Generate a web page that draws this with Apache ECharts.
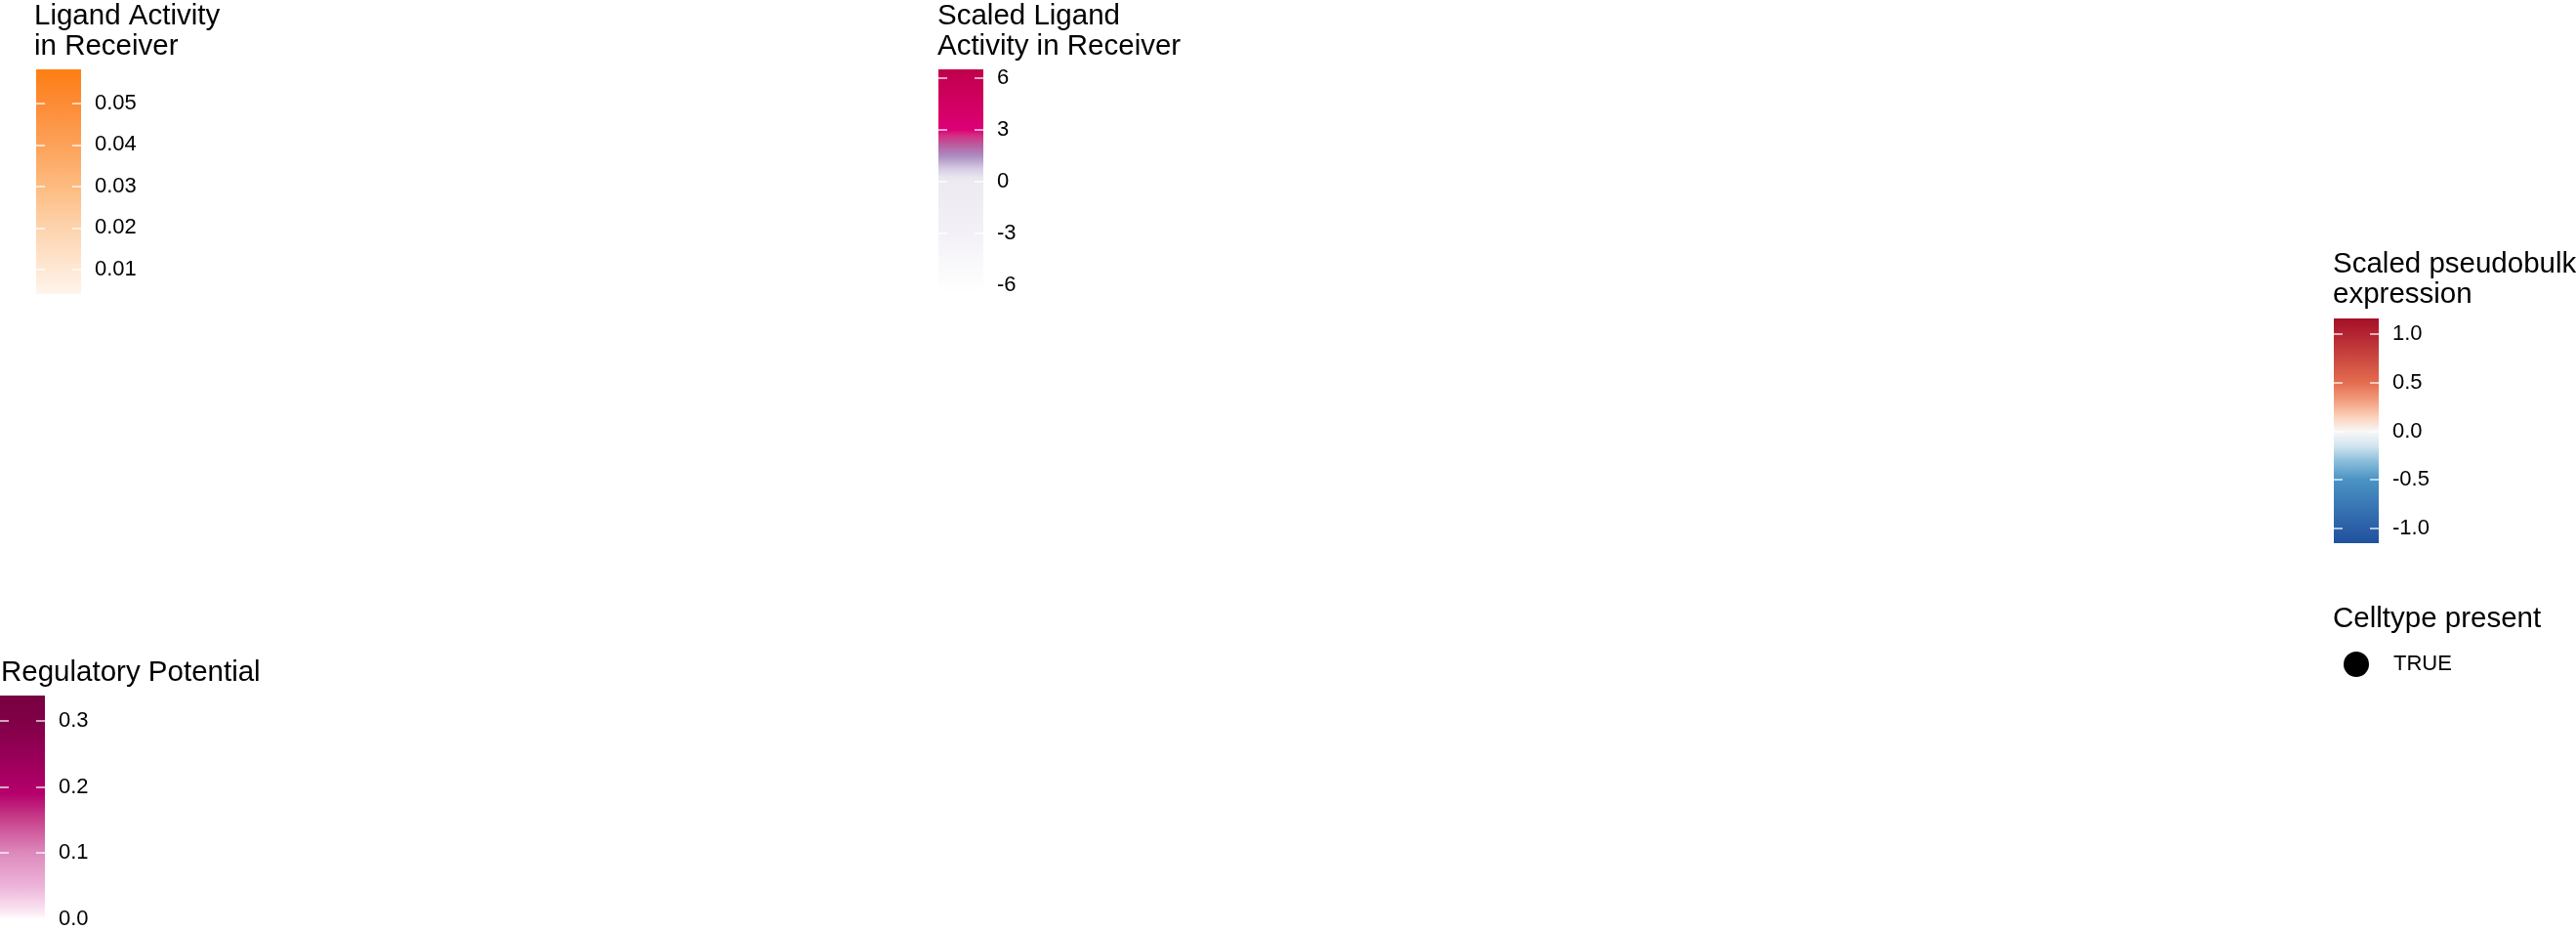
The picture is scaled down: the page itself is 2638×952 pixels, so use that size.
<!DOCTYPE html>
<html>
<head>
<meta charset="utf-8">
<script src="https://cdn.jsdelivr.net/npm/echarts@6/dist/echarts.min.js"></script>
<style>
  html, body { margin: 0; padding: 0; background: #ffffff; }
  #chart { width: 2638px; height: 952px; }
</style>
</head>
<body>
<div id="chart"></div>
<script>
// ---------- data ----------
const ligandActivityTitle = 'Ligand Activity\nin Receiver';
const ligandActivityRange = [0.0041, 0.0582];
const ligandActivityTicks = [0.01, 0.02, 0.03, 0.04, 0.05];
const ligandActivityLabels = ['0.01', '0.02', '0.03', '0.04', '0.05'];
const ligandActivityStops = [0.0041, 0.01, 0.02, 0.03, 0.04, 0.05, 0.0582];
const ligandActivityColors = ['#FFF5EC', '#FEE8D5', '#FDD3AD', '#FDBB80', '#FCA25A', '#FD8B36', '#FE7F12'];

const scaledLigandTitle = 'Scaled Ligand\nActivity in Receiver';
const scaledLigandRange = [-6.51, 6.51];
const scaledLigandTicks = [-6, -3, 0, 3, 6];
const scaledLigandLabels = ['-6', '-3', '0', '3', '6'];
const scaledLigandStops = [-6.51, -3, 0, 0.25, 0.75, 1.5, 2.1, 2.7, 3, 4.5, 6.51];
const scaledLigandColors = ['#FFFFFF', '#F3F1F7', '#EDEAF2', '#EAE6F0', '#D5CCE3', '#AC8CC0', '#B85FA0', '#D42C82', '#DC0077', '#D20062', '#C0004B'];

const pseudobulkTitle = 'Scaled pseudobulk\nexpression';
const pseudobulkRange = [-1.151, 1.161];
const pseudobulkTicks = [-1.0, -0.5, 0.0, 0.5, 1.0];
const pseudobulkLabels = ['-1.0', '-0.5', '0.0', '0.5', '1.0'];
const pseudobulkStops = [-1.151, -1.0, -0.5, -0.3, -0.15, 0.0, 0.15, 0.3, 0.5, 1.0, 1.161];
const pseudobulkColors = ['#1F519E', '#2A5FA7', '#4A92C4', '#8DC0DC', '#D2E5F0', '#F8F7F6', '#FBD0BA', '#F3A283', '#E36D4F', '#B32432', '#A50F27'];

const regulatoryTitle = 'Regulatory Potential';
const regulatoryRange = [0.0, 0.338];
const regulatoryTicks = [0.0, 0.1, 0.2, 0.3];
const regulatoryLabels = ['0.0', '0.1', '0.2', '0.3'];
const regulatoryStops = [0.0, 0.01, 0.05, 0.1, 0.15, 0.19, 0.25, 0.3, 0.338];
const regulatoryColors = ['#FFFFFF', '#FBEAF4', '#EDB3D9', '#DD8ABD', '#C8428C', '#B5006B', '#960057', '#800046', '#780041'];

const celltypeTitle = 'Celltype present';
const celltypeLevels = ['TRUE'];

// ---------- layout / style ----------
const FONT = '"Liberation Sans", Arial, Helvetica, sans-serif';
const TITLE_SIZE = 29.5, TITLE_LH = 31, TEXT_SIZE = 22;

const panels = [
  { title: ligandActivityTitle, range: ligandActivityRange, ticks: ligandActivityTicks, labels: ligandActivityLabels,
    stops: ligandActivityStops, colors: ligandActivityColors, titleLeft: 35, titleTop: 1, barLeft: 37, barTop: 71 },
  { title: scaledLigandTitle, range: scaledLigandRange, ticks: scaledLigandTicks, labels: scaledLigandLabels,
    stops: scaledLigandStops, colors: scaledLigandColors, titleLeft: 960, titleTop: 1, barLeft: 961, barTop: 71 },
  { title: pseudobulkTitle, range: pseudobulkRange, ticks: pseudobulkTicks, labels: pseudobulkLabels,
    stops: pseudobulkStops, colors: pseudobulkColors, titleLeft: 2389, titleTop: 255, barLeft: 2390, barTop: 326 },
  { title: regulatoryTitle, range: regulatoryRange, ticks: regulatoryTicks, labels: regulatoryLabels,
    stops: regulatoryStops, colors: regulatoryColors, titleLeft: 1, titleTop: 673, barLeft: 0, barTop: 712 }
];
const BAR_W = 46, BAR_H = 230, TICK_LEN = 9;

function gradient(range, stops, colors) {
  const lo = range[0], hi = range[1];
  const cs = stops.map((v, i) => ({ offset: Math.min(1, Math.max(0, (hi - v) / (hi - lo))), color: colors[i] }));
  cs.sort((a, b) => a.offset - b.offset);
  return { type: 'linear', x: 0, y: 0, x2: 0, y2: 1, colorStops: cs };
}

function labelFor(p) {
  return function (v) {
    let best = 0, d = Infinity;
    p.ticks.forEach((t, i) => { const dd = Math.abs(t - v); if (dd < d) { d = dd; best = i; } });
    return p.labels[best];
  };
}

const titles = [], grids = [], xAxes = [], yAxes = [];
panels.forEach((p, i) => {
  titles.push({
    text: p.title, left: p.titleLeft, top: p.titleTop, padding: 0,
    textStyle: { fontFamily: FONT, fontSize: TITLE_SIZE, fontWeight: 'normal', color: '#000', lineHeight: TITLE_LH }
  });
  grids.push({
    left: p.barLeft, top: p.barTop, width: BAR_W, height: BAR_H, show: true,
    backgroundColor: gradient(p.range, p.stops, p.colors), borderWidth: 0
  });
  xAxes.push({ type: 'value', gridIndex: i, min: 0, max: 1, show: false });
  // labels on the right
  yAxes.push({
    type: 'value', gridIndex: i, position: 'right', min: p.range[0], max: p.range[1],
    axisLine: { show: false }, splitLine: { show: false }, axisTick: { show: false },
    axisLabel: { show: true, customValues: p.ticks, margin: 14, color: '#000', fontSize: TEXT_SIZE, fontFamily: FONT,
      formatter: labelFor(p) }
  });
  // ticks: one line across the bar, dashed so only both edges show (ggplot colourbar ticks)
  yAxes.push({
    type: 'value', gridIndex: i, position: 'left', min: p.range[0], max: p.range[1],
    axisLine: { show: false }, splitLine: { show: false }, axisLabel: { show: false },
    axisTick: { show: true, inside: true, length: BAR_W, customValues: p.ticks,
      lineStyle: { color: 'rgba(255,255,255,0.85)', width: 1.5, type: [TICK_LEN, BAR_W - 2 * TICK_LEN] } }
  });
});

titles.push({
  text: celltypeTitle, left: 2389, top: 618, padding: 0,
  textStyle: { fontFamily: FONT, fontSize: TITLE_SIZE, fontWeight: 'normal', color: '#000', lineHeight: TITLE_LH }
});

const option = {
  animation: false,
  backgroundColor: '#ffffff',
  title: titles,
  grid: grids,
  xAxis: xAxes,
  yAxis: yAxes,
  legend: {
    data: celltypeLevels, left: 2400, top: 667, padding: 0, orient: 'vertical',
    icon: 'circle', itemWidth: 26, itemHeight: 26, selectedMode: false,
    textStyle: { fontFamily: FONT, fontSize: TEXT_SIZE, color: '#000', padding: [0, 0, 0, 20] }
  },
  series: celltypeLevels.map(name => ({
    name: name, type: 'scatter', xAxisIndex: 0, yAxisIndex: 0, data: [],
    itemStyle: { color: '#000', opacity: 1 }
  }))
};

const chart = echarts.init(document.getElementById('chart'));
chart.setOption(option);
</script>
</body>
</html>
